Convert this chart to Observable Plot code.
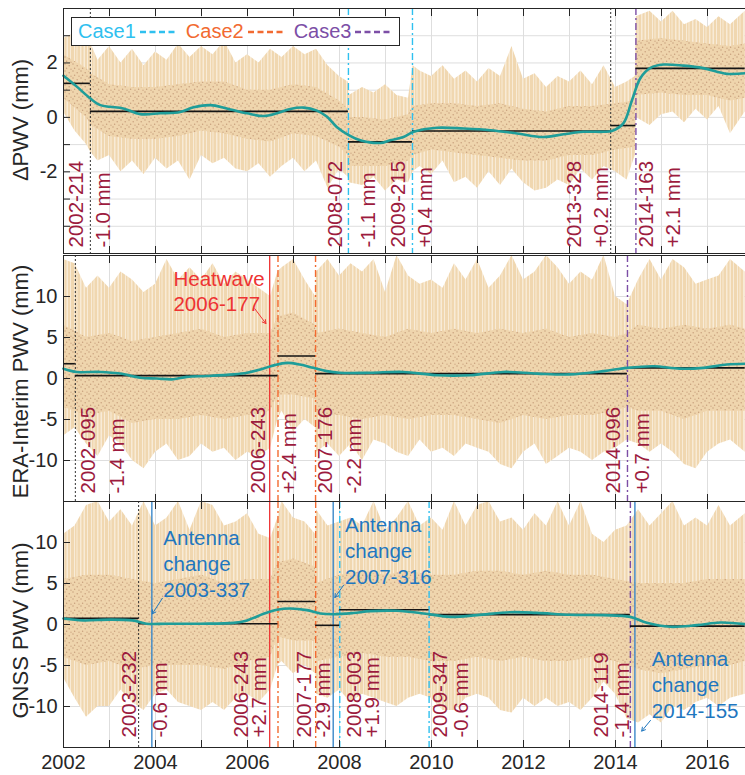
<!DOCTYPE html>
<html><head><meta charset="utf-8">
<script src="https://cdn.jsdelivr.net/npm/d3@7"></script>
<script src="https://cdn.jsdelivr.net/npm/@observablehq/plot@0.6"></script>
<style>
html,body{margin:0;padding:0;background:#fff;overflow:hidden;}
#wrap{position:relative;width:745px;height:775px;overflow:hidden;font-family:"Liberation Sans",Arial,Helvetica,sans-serif;background:#fff;}
#wrap svg{max-width:none;}
#legend{position:absolute;left:71px;top:17px;height:27px;border:1px solid #262626;background:#fff;display:flex;align-items:center;padding:0 7px 0 6px;font-size:20px;white-space:nowrap;z-index:5;}
#legend .dash{display:inline-block;margin:0 9px 0 4px;}
</style></head><body>
<svg width="0" height="0" style="position:absolute">
  <defs>
    <pattern id="dots" width="8" height="7" patternUnits="userSpaceOnUse">
      <circle cx="1" cy="1" r="0.75" fill="#c8a07c"/>
      <circle cx="5.2" cy="2.8" r="0.75" fill="#c8a07c"/>
      <circle cx="2.6" cy="5.2" r="0.75" fill="#c8a07c"/>
      <circle cx="7" cy="6.2" r="0.65" fill="#c8a07c"/>
    </pattern>
    <pattern id="hairs" width="17" height="40" patternUnits="userSpaceOnUse">
      <rect x="0" y="0" width="17" height="40" fill="#f8ebd7"/>
      <rect x="0" y="0" width="2" height="40" fill="#f0d7b0"/>
      <rect x="3" y="0" width="3" height="40" fill="#f0d7b0"/>
      <rect x="7" y="0" width="1.5" height="40" fill="#f0d7b0"/>
      <rect x="9.5" y="0" width="2.5" height="40" fill="#f0d7b0"/>
      <rect x="13.5" y="0" width="2" height="40" fill="#f0d7b0"/>
    </pattern>
  </defs>
</svg>
<div id="wrap">
  <div id="legend"></div>
</div>
<script>
// ---------------- DATA ----------------
const legendNames = ["Case1", "Case2", "Case3"];

// Panel 1 : ΔPWV
const p1EnvYear = [2002.00,2002.25,2002.50,2002.60,2002.75,2003.00,2003.25,2003.50,2003.75,2004.00,2004.25,2004.50,2004.75,2005.00,2005.25,2005.50,2005.75,2006.00,2006.25,2006.50,2006.75,2007.00,2007.25,2007.50,2007.75,2008.00,2008.19,2008.21,2008.50,2008.75,2009.00,2009.25,2009.50,2009.60,2009.75,2010.00,2010.25,2010.50,2010.75,2011.00,2011.25,2011.50,2011.75,2012.00,2012.25,2012.50,2012.75,2013.00,2013.25,2013.50,2013.75,2014.00,2014.25,2014.43,2014.45,2014.75,2015.00,2015.25,2015.50,2015.75,2016.00,2016.25,2016.50,2016.82];
const p1EnvHi = [2.9,3.1,2.6,2.7,2.1,2.6,2.0,2.5,1.9,2.4,2.1,2.7,2.2,2.6,2.3,2.8,2.0,2.3,2.0,2.5,2.2,2.6,2.3,2.5,1.9,1.5,1.3,0.8,1.1,0.9,1.2,0.8,0.7,1.9,1.7,1.5,1.9,1.4,1.7,1.3,1.8,1.5,2.6,1.4,1.6,1.1,1.5,1.3,1.7,1.2,1.9,1.1,1.3,1.5,3.7,3.9,3.5,3.9,3.4,3.6,3.3,3.7,3.4,3.9];
const p1EnvLo = [0.2,-0.5,-1.0,-1.3,-1.6,-1.4,-2.0,-1.6,-2.1,-1.5,-1.9,-1.6,-2.3,-1.4,-1.7,-1.5,-1.9,-2.0,-1.7,-2.2,-1.8,-1.5,-2.0,-1.6,-2.6,-1.9,-2.2,-2.4,-2.5,-2.2,-2.7,-2.3,-2.4,-2.0,-1.8,-2.1,-1.6,-2.4,-2.2,-2.6,-2.0,-2.5,-1.9,-2.4,-2.7,-2.6,-2.3,-2.5,-1.9,-2.3,-1.8,-2.0,-2.3,-1.4,0.0,-0.3,0.1,0.2,-0.2,0.3,-0.1,0.4,-0.6,0.2];
const p1CoreYear = [2002.0,2002.5,2002.6,2003.0,2003.5,2004.0,2004.5,2005.0,2005.5,2006.0,2006.5,2007.0,2007.5,2008.0,2008.19,2008.21,2008.5,2009.0,2009.5,2009.6,2010.0,2010.5,2011.0,2011.5,2012.0,2012.5,2013.0,2013.5,2014.0,2014.43,2014.45,2015.0,2015.5,2016.0,2016.5,2016.82];
const p1CoreHi = [2.3,1.8,1.6,1.2,1.1,1.1,1.2,1.3,1.3,1.0,1.0,1.2,1.1,0.6,0.3,0.0,0.0,-0.1,0.1,0.4,0.5,0.5,0.4,0.5,0.3,0.2,0.4,0.4,0.5,0.6,2.8,2.9,2.8,2.7,2.6,2.7];
const p1CoreLo = [0.7,0.0,-0.3,-0.7,-0.8,-0.8,-0.7,-0.5,-0.6,-0.8,-0.9,-0.6,-0.7,-1.1,-1.4,-1.8,-1.8,-1.8,-1.6,-1.4,-1.2,-1.3,-1.4,-1.5,-1.6,-1.6,-1.4,-1.4,-1.2,-1.1,0.8,0.9,0.8,0.8,0.6,0.7];
const p1TrendYear = [2002.0,2002.29,2002.58,2002.8,2003.01,2003.3,2003.67,2004.1,2004.54,2004.83,2005.19,2005.55,2005.99,2006.35,2006.64,2006.93,2007.22,2007.51,2007.73,2007.94,2008.2,2008.45,2008.89,2009.1,2009.39,2009.61,2010.12,2010.7,2011.28,2011.86,2012.43,2012.87,2013.3,2013.74,2013.92,2014.17,2014.36,2014.54,2014.75,2015.04,2015.48,2015.91,2016.42,2016.82];
const p1Trend = [1.53,1.13,0.70,0.45,0.39,0.33,0.12,0.15,0.2,0.37,0.45,0.33,0.15,0.05,0.15,0.31,0.36,0.25,0.02,-0.35,-0.65,-0.84,-0.94,-0.84,-0.72,-0.53,-0.38,-0.41,-0.47,-0.59,-0.72,-0.62,-0.53,-0.53,-0.5,-0.22,0.64,1.44,1.81,1.94,1.9,1.81,1.6,1.62];
const p1Changes = ["2002-214","2008-072","2009-215","2013-328","2014-163"];
const p1Kinds = ["none","case1","case1","none","case3"];
const p1Levels = [1.25,0.22,-0.9,-0.5,-0.3,1.8];
const p1DateX = [2002.29,2007.92,2009.29,2013.10,2014.68];
const p1Shift = ["-1.0 mm","-1.1 mm","+0.4 mm","+0.2 mm","+2.1 mm"];
const p1ShiftX = [2002.87,2008.63,2009.86,2013.70,2015.27];

// Panel 2 : ERA-Interim PWV
const p23EnvYear = [2002.00,2002.25,2002.50,2002.75,2003.00,2003.25,2003.50,2003.75,2004.00,2004.25,2004.50,2004.75,2005.00,2005.25,2005.50,2005.75,2006.00,2006.25,2006.50,2006.66,2006.75,2007.00,2007.25,2007.48,2007.50,2007.75,2008.00,2008.25,2008.50,2008.75,2009.00,2009.25,2009.50,2009.75,2010.00,2010.25,2010.50,2010.75,2011.00,2011.25,2011.50,2011.75,2012.00,2012.25,2012.50,2012.75,2013.00,2013.25,2013.50,2013.75,2014.00,2014.25,2014.50,2014.75,2015.00,2015.25,2015.50,2015.75,2016.00,2016.25,2016.50,2016.82];
const p2EnvHi = [14.5,14,11,12.5,11,13,12,10.5,11.5,14.5,12,13.5,12,14,11.5,13,12,11,10,13,13.5,14.5,12,10,13,14.5,12.5,14,13,14.5,10.5,15,12.5,11.5,12,11,14,12,14.5,11,12.5,15,12,13,15,13.5,11.5,13,12,15,10,9,12,14.5,12,14.5,13.5,11.5,12,12.5,14.5,13];
const p2EnvLo = [-7,-6,-8,-9.5,-7,-8,-10,-11,-9,-8,-10,-9.5,-8,-9,-8.5,-10,-9,-9.5,-8.5,-5,-4,-6.5,-5,-6,-9,-8,-9.5,-8,-10,-7.5,-8,-9,-9.5,-7.5,-9,-8.5,-9.5,-8,-8.5,-9,-10.5,-11,-9,-8,-10.5,-9.5,-8.5,-9,-10,-9,-8.5,-7.5,-8,-9,-8,-9,-10.5,-11,-9,-8,-7.5,-9];
const p2CoreYear = [2002.0,2002.5,2003.0,2003.5,2004.0,2004.5,2005.0,2005.5,2006.0,2006.5,2006.66,2007.0,2007.48,2007.5,2008.0,2008.5,2009.0,2009.5,2010.0,2010.5,2011.0,2011.5,2012.0,2012.5,2013.0,2013.5,2014.0,2014.26,2014.5,2015.0,2015.5,2016.0,2016.5,2016.82];
const p2CoreHi = [6.5,5.0,5.5,4.5,5.0,5.5,6.0,5.0,5.5,5.5,7.5,8.0,6.5,5.5,6.0,5.5,5.0,6.0,5.5,6.0,5.5,6.0,5.5,6.0,5.0,5.5,5.0,5.5,6.5,6.0,6.5,6.0,6.5,6.0];
const p2CoreLo = [-3.5,-4.5,-4.0,-5.5,-5.0,-5.0,-4.5,-5.0,-4.5,-4.0,-2.0,-2.0,-2.5,-4.5,-4.5,-5.0,-4.5,-5.0,-4.5,-4.5,-5.0,-5.5,-4.5,-5.0,-4.5,-4.5,-4.0,-3.5,-4.0,-4.0,-5.0,-4.0,-4.0,-4.0];
const p2TrendYear = [2002.0,2002.29,2002.8,2003.23,2003.67,2004.03,2004.39,2004.68,2005.12,2005.7,2005.99,2006.28,2006.57,2006.86,2007.14,2007.43,2007.72,2008.0,2008.67,2009.39,2010.12,2010.84,2011.57,2012.29,2013.01,2013.74,2014.25,2014.83,2015.4,2015.91,2016.42,2016.82];
const p2Trend = [1.2,0.8,0.8,0.6,0.1,0.0,-0.1,0.2,0.3,0.5,0.7,1.1,1.6,1.9,1.7,1.3,0.9,0.7,0.7,0.8,0.4,0.4,0.8,0.6,0.5,0.9,1.3,1.5,1.2,1.3,1.7,1.8];
const p2Changes = ["2002-095","2006-243","2007-176","2014-096"];
const p2Kinds = ["none","case2","case2","case3"];
const p2Levels = [1.8,0.35,2.75,0.6,1.3];
const p2DateX = [2002.54,2006.24,2007.69,2013.96];
const p2Shift = ["-1.4 mm","+2.4 mm","-2.2 mm","+0.7 mm"];
const p2ShiftX = [2003.18,2006.91,2008.32,2014.59];
const heatwaveDate = "2006-177";
const heatTextX = [2004.39], heatTextY = [13.5];
const heatArrowX = [2006.16, 2006.40], heatArrowY = [8.5, 6.7];

// Panel 3 : GNSS PWV
const p3EnvHi = [11,12,14.5,15,12.5,14,12,15,12,13,15,11.5,15,14.5,12,12.5,13.5,11,10.5,13,15,13,12.5,11,14,12,12.5,13,12,15,11.5,13,15,12,13,11.5,15,12,14.5,15,12.5,13,11.5,13.5,12,15,12,15,11,10,11.5,12,14,12,13.5,15,12,13,12,14.5,12,13.5];
const p3EnvLo = [-6.5,-9,-11.3,-10,-10,-8,-9.5,-10.5,-8.5,-8,-9.5,-10,-10.5,-9.5,-10.5,-9,-8.5,-9.5,-8,-5,-4.5,-6,-5,-6,-8.5,-9,-8,-9.5,-8.5,-9,-9.5,-10,-9,-8.5,-9,-10.5,-10.5,-9,-8.5,-9,-10.5,-10.8,-9,-10,-9,-10,-9.5,-10.5,-9,-7,-8.5,-11.5,-12,-11,-12,-10,-10.5,-9.5,-9,-10,-9,-8.5];
const p3CoreYear = [2002.0,2002.5,2003.0,2003.5,2004.0,2004.5,2005.0,2005.5,2006.0,2006.5,2006.66,2007.0,2007.48,2007.5,2008.0,2008.5,2009.0,2009.5,2010.0,2010.5,2011.0,2011.5,2012.0,2012.5,2013.0,2013.5,2014.0,2014.5,2015.0,2015.5,2016.0,2016.5,2016.82];
const p3CoreHi = [5.5,6.0,6.0,5.5,5.0,5.5,6.0,5.0,5.5,5.5,7.5,8.0,7.0,5.0,6.0,6.5,6.0,6.5,6.0,6.0,6.5,6.5,6.0,6.5,6.0,6.0,5.5,5.0,5.0,5.0,5.5,5.5,5.5];
const p3CoreLo = [-4.0,-5.0,-4.5,-5.5,-5.0,-5.0,-5.0,-5.5,-4.5,-4.0,-1.5,-2.0,-2.0,-4.5,-4.0,-3.5,-4.0,-4.0,-4.5,-4.5,-4.0,-4.5,-4.0,-4.5,-4.5,-4.0,-4.5,-5.5,-6.0,-5.5,-5.0,-5.0,-4.5];
const p3TrendYear = [2002.0,2002.43,2003.0,2003.5,2003.8,2004.25,2004.97,2005.7,2005.99,2006.35,2006.64,2006.93,2007.29,2007.58,2007.87,2008.3,2008.67,2009.25,2009.83,2010.41,2010.99,2011.71,2012.29,2013.01,2013.74,2014.32,2014.68,2015.19,2015.77,2016.28,2016.82];
const p3Trend = [0.73,0.5,0.6,0.5,0.1,0.1,0.1,0.2,0.5,1.3,1.8,1.95,1.75,1.35,1.25,1.4,1.63,1.67,1.35,0.93,1.14,1.5,1.42,1.18,1.14,0.93,0.2,-0.28,-0.08,0.24,0.04];
const p3Changes = ["2003-232","2006-243","2007-177","2008-003","2009-347","2014-119"];
const p3Kinds = ["none","case2","case2","case1","case1","case3"];
const p3Levels = [0.75,0.1,2.8,-0.1,1.8,1.2,-0.2];
const p3DateX = [2003.43,2005.86,2007.23,2008.32,2010.19,2013.69];
const p3Shift = ["-0.6 mm","+2.7 mm","-2.9 mm","+1.9 mm","-0.6 mm","-1.4 mm"];
const p3ShiftX = [2004.10,2006.25,2007.65,2008.72,2010.66,2014.16];
const antennaDates = ["2003-337","2007-316","2014-155"];
const antennaTextX = [2004.17, 2008.12, 2014.79];
const antennaTextY = [11.9, 13.5, -2.8];
const antennaArrowX1 = [2004.15, 2008.09, 2014.76], antennaArrowY1 = [3.2, 4.8, -11.7];
const antennaArrowX2 = [2003.93, 2007.90, 2014.57], antennaArrowY2 = [1.3, 3.3, -13.0];

// ---------------- STYLE / HELPERS ----------------
const FONT = '"Liberation Sans", Arial, Helvetica, sans-serif';
const LABEL_RED = "#9c1b3e";
const STYLES = {
  none:    {stroke: "#333333", dash: "2,2",     w: 1},
  case1:   {stroke: "#2fc0ef", dash: "7,3,2,3", w: 1.4},
  case2:   {stroke: "#f26a30", dash: "7,3,2,3", w: 1.4},
  case3:   {stroke: "#7c4ea6", dash: "7,3,2,3", w: 1.4},
  heat:    {stroke: "#ee3333", dash: null,      w: 1.3},
  antenna: {stroke: "#3a87c9", dash: null,      w: 1.4}
};
const legendColors = [STYLES.case1.stroke, STYLES.case2.stroke, STYLES.case3.stroke];

function doyYear(s) {
  const [y, d] = s.split("-").map(Number);
  const n = (y % 4 === 0) ? 366 : 365;
  return y + (d - 1) / n;
}
const zip3 = (xs, a, b) => xs.map((x, i) => ({x, hi: a[i], lo: b[i]}));
const X_START = 2002, X_END = 2016.82;
const PX_PER_YEAR = 46, MARGIN_LEFT = 63, SVG_W = 760;
const xDomain = [X_START, X_START + (SVG_W - MARGIN_LEFT) / PX_PER_YEAR];
const yearTicks = d3.range(2002, 2018);
const yearLabelTicks = d3.range(2002, 2018, 2);

function steps(changes, levels) {
  const b = [X_START, ...changes.map(doyYear), X_END];
  return levels.map((v, i) => ({x1: b[i], x2: b[i + 1], y: v}));
}

function panel(cfg) {
  const lines = cfg.changes.map((c, i) => ({x: doyYear(c), kind: cfg.kinds[i]}))
    .concat((cfg.events || []).map(e => ({x: doyYear(e.date), kind: e.kind})));
  const ruleMarks = Object.keys(STYLES).map(k => {
    const st = STYLES[k];
    return Plot.ruleX(lines.filter(d => d.kind === k), {x: "x", stroke: st.stroke, strokeWidth: st.w, strokeDasharray: st.dash || undefined});
  });
  const dateLabels = cfg.changes.map((c, i) => ({x: cfg.dateX[i], t: c}));
  const shiftLabels = cfg.shift.map((t, i) => ({x: cfg.shiftX[i], t}));
  const env = zip3(cfg.envYear, cfg.envHi, cfg.envLo);
  const core = zip3(cfg.coreYear, cfg.coreHi, cfg.coreLo);
  const trend = cfg.trendYear.map((x, i) => ({x, y: cfg.trend[i]}));
  const rotText = {x: "x", text: "t", frameAnchor: "bottom", rotate: -90, textAnchor: "start", lineAnchor: "middle", dy: cfg.labelDy, fill: LABEL_RED, fontSize: 20.5};

  const marks = [
    Plot.gridX({ticks: yearTicks, stroke: "#dedede", strokeOpacity: 1}),
    Plot.gridY({ticks: cfg.yGrid, stroke: "#dedede", strokeOpacity: 1}),
    Plot.areaY(env, {x: "x", y1: "lo", y2: "hi", fill: "url(#hairs)"}),
    Plot.areaY(core, {x: "x", y1: "lo", y2: "hi", fill: "#efd5ad"}),
    Plot.areaY(core, {x: "x", y1: "lo", y2: "hi", fill: "url(#dots)"}),
    ...ruleMarks,
    Plot.ruleY(steps(cfg.changes, cfg.levels), {y: "y", x1: "x1", x2: "x2", stroke: "#151515", strokeWidth: 1.6}),
    Plot.line(trend, {x: "x", y: "y", stroke: "#1f9d99", strokeWidth: 2.6, curve: "catmull-rom"}),
    Plot.text(dateLabels, rotText),
    Plot.text(shiftLabels, rotText),
    ...(cfg.extra || []),
    Plot.frame({stroke: "#262626", strokeWidth: 1}),
    Plot.axisX({anchor: "bottom", ticks: yearTicks, tickSize: -7, tickFormat: () => "", label: null}),
    Plot.axisX({anchor: "top", ticks: yearTicks, tickSize: -7, tickFormat: () => "", label: null}),
    Plot.axisY({anchor: "left", ticks: cfg.yTicks, tickSize: -7, tickFormat: () => "", label: null}),
    Plot.axisY({anchor: "left", ticks: cfg.yLabels, tickSize: 0, tickPadding: 6, tickFormat: d => String(d), label: null, fontSize: 20}),
    Plot.text([cfg.title], {text: d => d, frameAnchor: "left", dx: -43, dy: cfg.titleDy, rotate: -90, textAnchor: "middle", lineAnchor: "middle", fontSize: 22, fill: "#262626"})
  ];
  if (cfg.showX) {
    marks.push(Plot.axisX({anchor: "bottom", ticks: yearLabelTicks, tickSize: 0, tickPadding: 7, tickFormat: d => String(d), label: null, fontSize: 20}));
  }
  const svg = Plot.plot({
    width: SVG_W, height: cfg.height,
    marginLeft: MARGIN_LEFT, marginRight: 0, marginTop: cfg.marginTop, marginBottom: cfg.marginBottom,
    x: {domain: xDomain, label: null},
    y: {domain: cfg.yDomain, label: null},
    style: {fontFamily: FONT, fontSize: "20px", background: "transparent", overflow: "visible", color: "#262626", maxWidth: "none"},
    marks
  });
  svg.style.position = "absolute";
  svg.style.left = "0px";
  svg.style.top = cfg.top + "px";
  svg.style.maxWidth = "none";
  svg.style.width = SVG_W + "px";
  return svg;
}

const wrap = document.getElementById("wrap");

const heatMarks = [
  Plot.text([heatwaveDate], {x: () => heatTextX[0], y: () => heatTextY[0], text: d => "Heatwave\n" + d, textAnchor: "start", lineAnchor: "top", lineHeight: 1.22, fontSize: 20.5, fill: STYLES.heat.stroke}),
  Plot.arrow([0], {x1: () => heatArrowX[0], y1: () => heatArrowY[0], x2: () => heatArrowX[1], y2: () => heatArrowY[1], stroke: STYLES.heat.stroke, strokeWidth: 1, headLength: 6})
];
const antData = antennaDates.map((d, i) => ({d, tx: antennaTextX[i], ty: antennaTextY[i], x1: antennaArrowX1[i], y1: antennaArrowY1[i], x2: antennaArrowX2[i], y2: antennaArrowY2[i]}));
const antMarks = [
  Plot.text(antData, {x: "tx", y: "ty", text: d => "Antenna\nchange\n" + d.d, textAnchor: "start", lineAnchor: "top", lineHeight: 1.27, fontSize: 20.5, fill: "#1f77bf"}),
  Plot.arrow(antData, {x1: "x1", y1: "y1", x2: "x2", y2: "y2", stroke: "#1f77bf", strokeWidth: 1, headLength: 6})
];

wrap.appendChild(panel({
  top: 0, height: 254, marginTop: 8, marginBottom: 1,
  yDomain: [-5, 4], yTicks: d3.range(-5, 5), yGrid: d3.range(-4, 4), yLabels: [-2, 0, 2],
  title: "ΔPWV (mm)", titleDy: -11,
  envYear: p1EnvYear, envHi: p1EnvHi, envLo: p1EnvLo,
  coreYear: p1CoreYear, coreHi: p1CoreHi, coreLo: p1CoreLo,
  trendYear: p1TrendYear, trend: p1Trend,
  changes: p1Changes, kinds: p1Kinds, levels: p1Levels,
  dateX: p1DateX, shift: p1Shift, shiftX: p1ShiftX, labelDy: -6
}));
wrap.appendChild(panel({
  top: 253, height: 250, marginTop: 2, marginBottom: 2,
  yDomain: [-15, 15], yTicks: d3.range(-15, 16, 5), yGrid: d3.range(-10, 11, 5), yLabels: [-10, -5, 0, 5, 10],
  title: "ERA-Interim PWV (mm)", titleDy: 3,
  envYear: p23EnvYear, envHi: p2EnvHi, envLo: p2EnvLo,
  coreYear: p2CoreYear, coreHi: p2CoreHi, coreLo: p2CoreLo,
  trendYear: p2TrendYear, trend: p2Trend,
  changes: p2Changes, kinds: p2Kinds, levels: p2Levels,
  events: [{date: heatwaveDate, kind: "heat"}],
  dateX: p2DateX, shift: p2Shift, shiftX: p2ShiftX, labelDy: -8,
  extra: heatMarks
}));
wrap.appendChild(panel({
  top: 500, height: 275, marginTop: 1, marginBottom: 28,
  yDomain: [-15, 15], yTicks: d3.range(-15, 16, 5), yGrid: d3.range(-10, 11, 5), yLabels: [-10, -5, 0, 5, 10],
  title: "GNSS PWV (mm)", titleDy: 6,
  envYear: p23EnvYear, envHi: p3EnvHi, envLo: p3EnvLo,
  coreYear: p3CoreYear, coreHi: p3CoreHi, coreLo: p3CoreLo,
  trendYear: p3TrendYear, trend: p3Trend,
  changes: p3Changes, kinds: p3Kinds, levels: p3Levels,
  events: [{date: heatwaveDate, kind: "heat"}].concat(antennaDates.map(d => ({date: d, kind: "antenna"}))),
  dateX: p3DateX, shift: p3Shift, shiftX: p3ShiftX, labelDy: -10,
  extra: antMarks, showX: true
}));

// Legend (HTML overlay)
const legend = document.getElementById("legend");
legendNames.forEach((name, i) => {
  const s = document.createElement("span");
  s.textContent = name;
  s.style.color = legendColors[i];
  legend.appendChild(s);
  const ns = "http://www.w3.org/2000/svg";
  const sv = document.createElementNS(ns, "svg");
  sv.setAttribute("width", 37); sv.setAttribute("height", 6);
  sv.setAttribute("class", "dash");
  if (i === legendNames.length - 1) sv.style.marginRight = "0px";
  const ln = document.createElementNS(ns, "line");
  ln.setAttribute("x1", 0); ln.setAttribute("x2", 37); ln.setAttribute("y1", 3); ln.setAttribute("y2", 3);
  ln.setAttribute("stroke", legendColors[i]); ln.setAttribute("stroke-width", 2.5);
  ln.setAttribute("stroke-dasharray", "6,3.5");
  sv.appendChild(ln);
  legend.appendChild(sv);
});
</script>
</body></html>
